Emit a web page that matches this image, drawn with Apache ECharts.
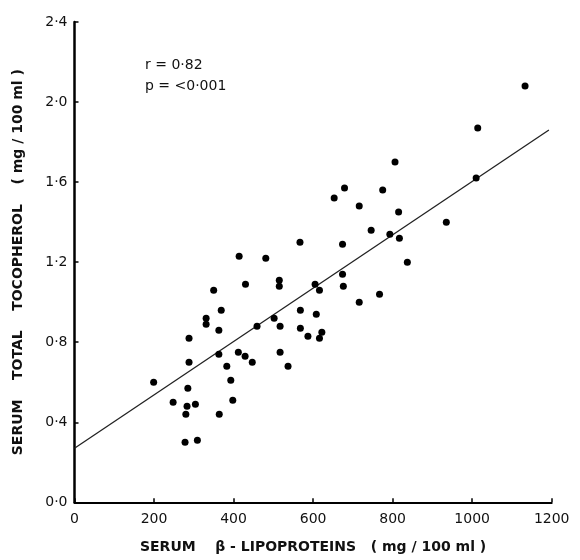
<!DOCTYPE html>
<html>
<head>
<meta charset="utf-8">
<script src="https://cdn.jsdelivr.net/npm/echarts@6/dist/echarts.min.js"></script>
<style>
html,body{margin:0;padding:0;background:#fff;}
#chart{width:580px;height:560px;}
</style>
</head>
<body>
<div id="chart"></div>
<script>
// Serum beta-lipoproteins (mg/100 ml)
var lipoproteins = [567,674,746,414,481,430,515,515,350,605,616,674,676,767,716,369,331,331,363,288,459,502,517,568,608,568,587,622,616,363,288,412,429,447,517,383,537,393,285,283,304,398,280,364,199,248,278,309,1014,806,775,1010,716,815,793,817,935,837,679,653,1133];
// Serum total tocopherol (mg/100 ml)
var tocopherol = [1.30,1.29,1.36,1.23,1.22,1.09,1.11,1.08,1.06,1.09,1.06,1.14,1.08,1.04,1.00,0.96,0.92,0.89,0.86,0.82,0.88,0.92,0.88,0.96,0.94,0.87,0.83,0.85,0.82,0.74,0.70,0.75,0.73,0.70,0.75,0.68,0.68,0.61,0.57,0.48,0.49,0.51,0.44,0.44,0.60,0.50,0.30,0.31,1.87,1.70,1.56,1.62,1.48,1.45,1.34,1.32,1.40,1.20,1.57,1.52,2.08];
// Regression line end points
var fitX = [0, 1193];
var fitY = [0.27, 1.86];
// Tick labels
var xTickLabels = ['0','200','400','600','800','1000','1200'];
var yTickLabels = ['0·0','0·4','0·8','1·2','1·6','2·0','2·4'];
var statLines = ['r = 0·82', 'p = <0·001'];

var points = lipoproteins.map(function(x, i){ return [x, tocopherol[i]]; });
var fitLine = fitX.map(function(x, i){ return [x, fitY[i]]; });

var ink = '#000';
var font = 'DejaVu Sans';

var chart = echarts.init(document.getElementById('chart'), null, {renderer:'canvas'});
chart.setOption({
  animation: false,
  backgroundColor: '#fff',
  grid: {left: 74.5, right: 28.3, top: 22, bottom: 57.7},
  xAxis: {
    type: 'value', min: 0, max: 1200, interval: 200,
    name: 'SERUM    β - LIPOPROTEINS   ( mg / 100 ml )',
    nameLocation: 'middle', nameGap: 38,
    nameTextStyle: {fontFamily: font, fontSize: 14, color: '#111', fontWeight: 'bold'},
    axisLine: {lineStyle: {color: ink, width: 2}},
    axisTick: {inside: true, length: 4, lineStyle: {color: ink, width: 1.5}},
    splitLine: {show: false},
    axisLabel: {
      margin: 10, fontFamily: font, fontSize: 14, color: '#111',
      formatter: function(v){ return xTickLabels[Math.round(v/200)]; }
    }
  },
  yAxis: {
    type: 'value', min: 0, max: 2.4, interval: 0.4,
    name: 'SERUM    TOTAL    TOCOPHEROL    ( mg / 100 ml )',
    nameLocation: 'middle', nameGap: 49, nameRotate: 90,
    nameTextStyle: {fontFamily: font, fontSize: 14, color: '#111', fontWeight: 'bold'},
    axisLine: {lineStyle: {color: ink, width: 2.5}},
    axisTick: {inside: true, length: 4, lineStyle: {color: ink, width: 1.5}},
    splitLine: {show: false},
    axisLabel: {
      margin: 7, fontFamily: font, fontSize: 14, color: '#111',
      formatter: function(v){ return yTickLabels[Math.round(v/0.4)]; }
    }
  },
  graphic: [
    {type:'text', left: 145, top: 58, style:{text: statLines[0], fontFamily: font, fontSize: 14, fill: '#111'}},
    {type:'text', left: 145, top: 79, style:{text: statLines[1], fontFamily: font, fontSize: 14, fill: '#111'}}
  ],
  series: [
    {type: 'line', data: fitLine, showSymbol: false, symbol: 'none',
     lineStyle: {color: '#222', width: 1.3}, z: 2},
    {type: 'scatter', data: points, symbol: 'circle', symbolSize: 7,
     itemStyle: {color: '#000', opacity: 1}, z: 3}
  ]
});
</script>
</body>
</html>
